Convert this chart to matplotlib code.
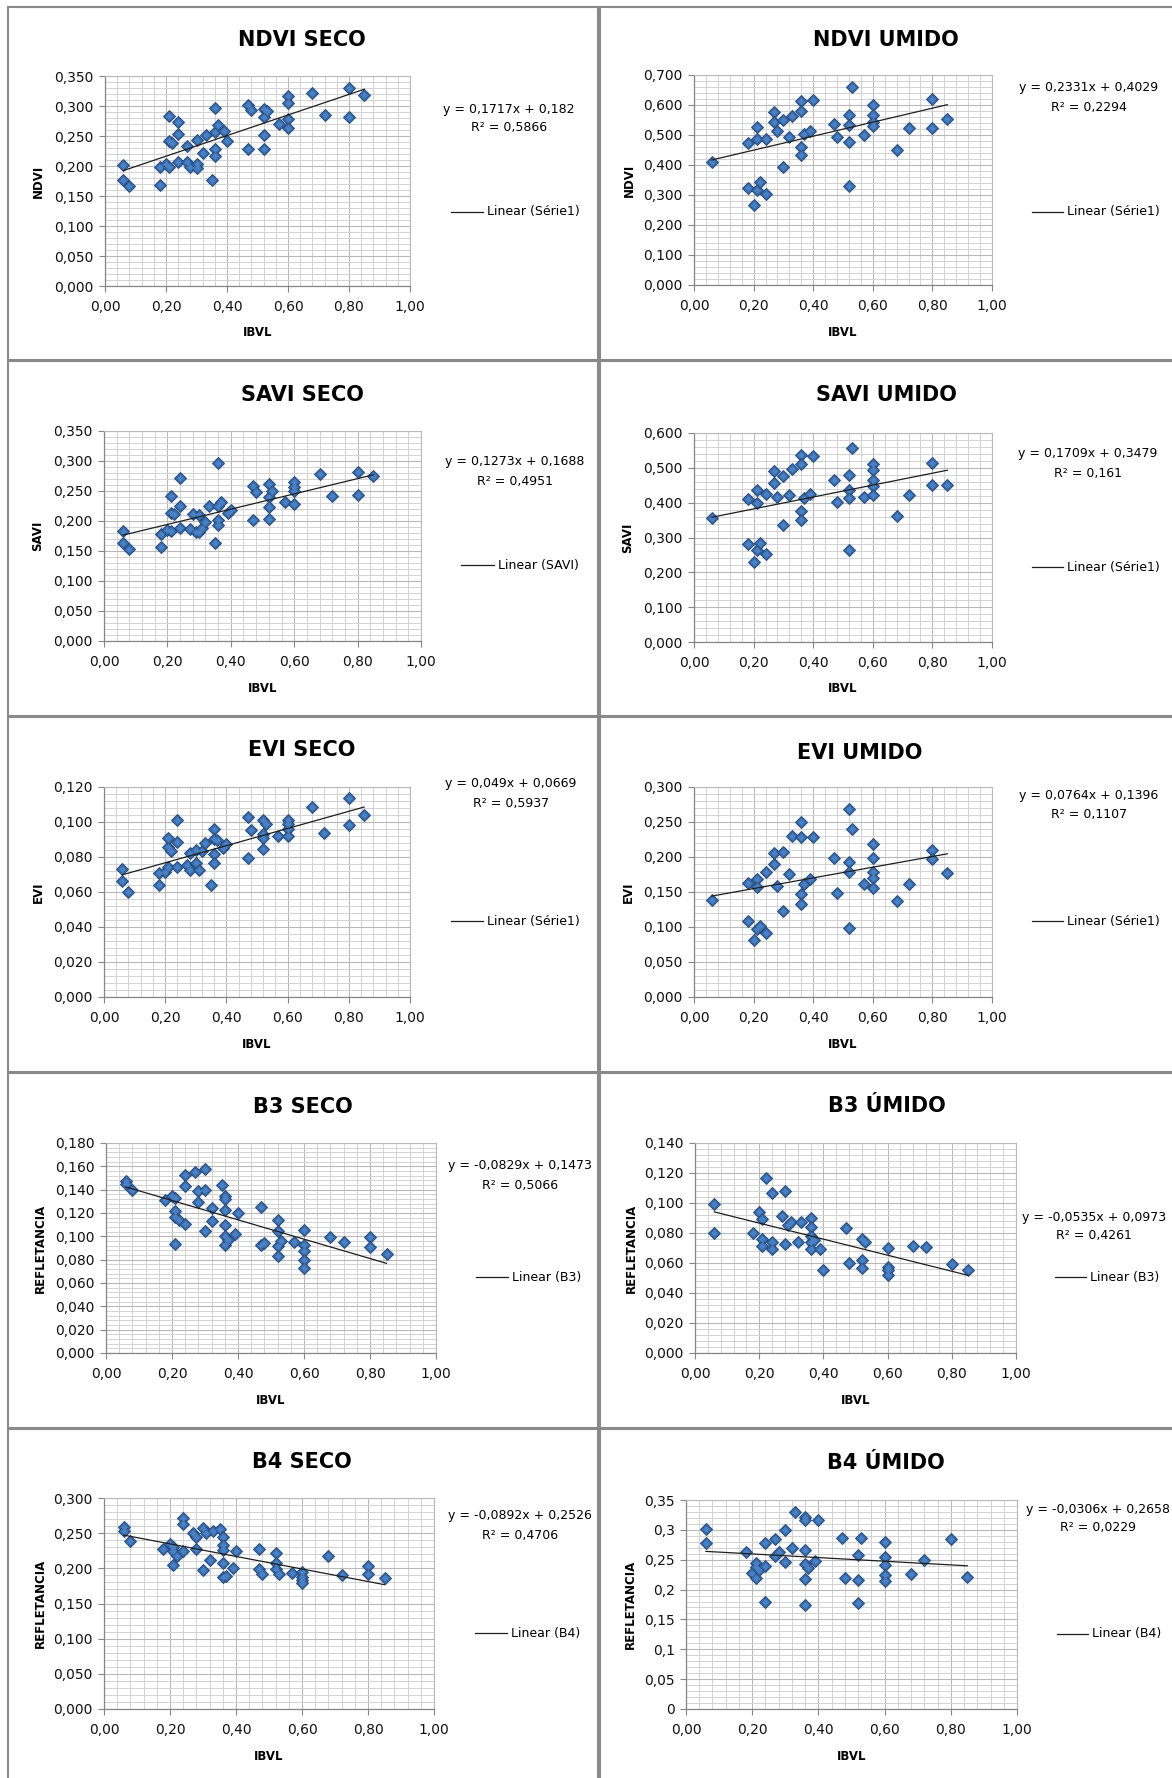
"""
Scatter plots of vegetation indices and reflectance vs IBVL (dry / wet season),
each with its linear trend line, Excel-style panels.
"""
import numpy as np
import matplotlib
matplotlib.use('Agg')
import matplotlib.pyplot as plt
from matplotlib.patches import Rectangle
from matplotlib.lines import Line2D
from matplotlib.ticker import MultipleLocator, FuncFormatter

# ---- data ----
ndvi_seco_x = [0.06, 0.06, 0.08, 0.18, 0.18, 0.20, 0.21, 0.21, 0.21, 0.22,
               0.24, 0.24, 0.24, 0.27, 0.27, 0.28, 0.30, 0.30, 0.30, 0.32,
               0.33, 0.35, 0.36, 0.36, 0.36, 0.36, 0.37, 0.39, 0.40, 0.47,
               0.47, 0.48, 0.52, 0.52, 0.52, 0.52, 0.53, 0.57, 0.60, 0.60,
               0.60, 0.60, 0.68, 0.72, 0.80, 0.80, 0.85]
ndvi_seco_y = [0.202, 0.177, 0.167, 0.168, 0.199, 0.204, 0.199, 0.283, 0.241, 0.239,
               0.274, 0.254, 0.206, 0.233, 0.206, 0.199, 0.244, 0.204, 0.197, 0.222,
               0.252, 0.177, 0.296, 0.257, 0.228, 0.216, 0.268, 0.258, 0.242, 0.302,
               0.228, 0.293, 0.295, 0.281, 0.252, 0.229, 0.291, 0.270, 0.316, 0.305,
               0.278, 0.263, 0.321, 0.285, 0.330, 0.281, 0.319]

ndvi_umido_x = [0.06, 0.18, 0.18, 0.20, 0.21, 0.21, 0.21, 0.22, 0.24, 0.24,
                0.27, 0.27, 0.28, 0.30, 0.30, 0.32, 0.33, 0.36, 0.36, 0.36,
                0.36, 0.37, 0.39, 0.40, 0.47, 0.48, 0.52, 0.52, 0.52, 0.52,
                0.53, 0.57, 0.60, 0.60, 0.60, 0.60, 0.68, 0.72, 0.80, 0.80,
                0.85]
ndvi_umido_y = [0.410, 0.473, 0.323, 0.268, 0.526, 0.487, 0.316, 0.342, 0.487, 0.304,
                0.577, 0.542, 0.512, 0.551, 0.392, 0.492, 0.562, 0.612, 0.581, 0.460,
                0.434, 0.503, 0.514, 0.616, 0.537, 0.492, 0.568, 0.534, 0.476, 0.331,
                0.659, 0.501, 0.601, 0.568, 0.545, 0.531, 0.449, 0.523, 0.621, 0.523,
                0.554]

savi_seco_x = [0.06, 0.06, 0.08, 0.18, 0.18, 0.20, 0.21, 0.21, 0.21, 0.22,
               0.24, 0.24, 0.24, 0.27, 0.28, 0.29, 0.30, 0.30, 0.31, 0.32,
               0.33, 0.35, 0.36, 0.36, 0.36, 0.36, 0.37, 0.39, 0.40, 0.47,
               0.47, 0.48, 0.52, 0.52, 0.52, 0.52, 0.53, 0.57, 0.60, 0.60,
               0.60, 0.60, 0.68, 0.72, 0.80, 0.80, 0.85]
savi_seco_y = [0.183, 0.163, 0.154, 0.156, 0.178, 0.185, 0.241, 0.214, 0.183, 0.211,
               0.271, 0.225, 0.189, 0.186, 0.211, 0.181, 0.210, 0.181, 0.189, 0.198,
               0.225, 0.164, 0.296, 0.225, 0.202, 0.193, 0.232, 0.214, 0.218, 0.259,
               0.202, 0.248, 0.262, 0.240, 0.223, 0.204, 0.250, 0.232, 0.265, 0.256,
               0.250, 0.229, 0.278, 0.242, 0.282, 0.244, 0.275]

savi_umido_x = [0.06, 0.18, 0.18, 0.20, 0.21, 0.21, 0.21, 0.22, 0.24, 0.24,
                0.27, 0.27, 0.28, 0.30, 0.30, 0.32, 0.33, 0.36, 0.36, 0.36,
                0.36, 0.37, 0.39, 0.40, 0.47, 0.48, 0.52, 0.52, 0.52, 0.52,
                0.53, 0.57, 0.60, 0.60, 0.60, 0.60, 0.60, 0.68, 0.72, 0.80,
                0.80, 0.85]
savi_umido_y = [0.356, 0.411, 0.281, 0.230, 0.437, 0.399, 0.265, 0.284, 0.425, 0.254,
                0.456, 0.490, 0.415, 0.476, 0.335, 0.423, 0.497, 0.536, 0.511, 0.377,
                0.351, 0.413, 0.425, 0.533, 0.466, 0.402, 0.480, 0.435, 0.413, 0.263,
                0.557, 0.415, 0.511, 0.493, 0.464, 0.447, 0.421, 0.363, 0.423, 0.514,
                0.452, 0.452]

evi_seco_x = [0.06, 0.06, 0.08, 0.18, 0.18, 0.20, 0.21, 0.21, 0.21, 0.22,
              0.24, 0.24, 0.24, 0.27, 0.28, 0.28, 0.30, 0.30, 0.31, 0.32,
              0.33, 0.35, 0.36, 0.36, 0.36, 0.36, 0.37, 0.39, 0.40, 0.47,
              0.47, 0.48, 0.52, 0.52, 0.52, 0.52, 0.53, 0.57, 0.60, 0.60,
              0.60, 0.60, 0.68, 0.72, 0.80, 0.80, 0.85]
evi_seco_y = [0.0733, 0.0661, 0.0600, 0.0709, 0.0642, 0.0714, 0.0857, 0.0910, 0.0743, 0.0834,
              0.1013, 0.0886, 0.0743, 0.0756, 0.0825, 0.0728, 0.0838, 0.0766, 0.0728, 0.0832,
              0.0880, 0.0642, 0.0962, 0.0905, 0.0819, 0.0766, 0.0895, 0.0851, 0.0876, 0.1029,
              0.0796, 0.0956, 0.1010, 0.0933, 0.0910, 0.0848, 0.0990, 0.0918, 0.1010, 0.0990,
              0.0962, 0.0920, 0.1086, 0.0939, 0.1137, 0.0985, 0.1038]

evi_umido_x = savi_umido_x
evi_umido_y = [0.138, 0.163, 0.109, 0.081, 0.168, 0.157, 0.097, 0.102, 0.178, 0.092,
               0.190, 0.205, 0.159, 0.207, 0.123, 0.176, 0.230, 0.250, 0.228, 0.147,
               0.133, 0.162, 0.168, 0.228, 0.199, 0.148, 0.268, 0.193, 0.178, 0.099,
               0.240, 0.162, 0.218, 0.198, 0.179, 0.170, 0.156, 0.137, 0.162, 0.210,
               0.197, 0.177]

b3_seco_x = [0.06, 0.06, 0.08, 0.18, 0.20, 0.21, 0.21, 0.21, 0.21, 0.22,
             0.24, 0.24, 0.24, 0.27, 0.28, 0.28, 0.30, 0.30, 0.30, 0.32,
             0.32, 0.35, 0.36, 0.36, 0.36, 0.36, 0.36, 0.36, 0.37, 0.39,
             0.40, 0.47, 0.47, 0.48, 0.52, 0.52, 0.52, 0.52, 0.53, 0.57,
             0.60, 0.60, 0.60, 0.60, 0.60, 0.68, 0.72, 0.80, 0.80, 0.85]
b3_seco_y = [0.1477, 0.1449, 0.1400, 0.1314, 0.1343, 0.1330, 0.1214, 0.1170, 0.0937, 0.1143,
             0.1529, 0.1429, 0.1109, 0.1551, 0.1391, 0.1291, 0.1577, 0.1394, 0.1043, 0.1134,
             0.1243, 0.1443, 0.1349, 0.1320, 0.1229, 0.1100, 0.1000, 0.0923, 0.0971, 0.1020,
             0.1200, 0.1249, 0.0929, 0.0943, 0.1143, 0.1049, 0.0914, 0.0829, 0.0957, 0.0949,
             0.1051, 0.0929, 0.0877, 0.0800, 0.0729, 0.0991, 0.0949, 0.0991, 0.0909, 0.0851]

b3_umido_x = [0.06, 0.06, 0.18, 0.20, 0.21, 0.21, 0.21, 0.22, 0.24, 0.24,
              0.24, 0.27, 0.28, 0.28, 0.29, 0.30, 0.32, 0.33, 0.36, 0.36,
              0.36, 0.36, 0.36, 0.37, 0.39, 0.40, 0.47, 0.48, 0.52, 0.52,
              0.52, 0.53, 0.60, 0.60, 0.60, 0.60, 0.68, 0.72, 0.80, 0.85]
b3_umido_y = [0.0996, 0.0800, 0.0802, 0.0940, 0.0891, 0.0758, 0.0711, 0.1167, 0.1069, 0.0740,
              0.0691, 0.0913, 0.1078, 0.0724, 0.0856, 0.0873, 0.0740, 0.0873, 0.0900, 0.0840,
              0.0780, 0.0740, 0.0691, 0.0751, 0.0696, 0.0551, 0.0833, 0.0600, 0.0762, 0.0618,
              0.0569, 0.0740, 0.0702, 0.0573, 0.0556, 0.0518, 0.0713, 0.0707, 0.0596, 0.0556]

b4_seco_x = [0.06, 0.06, 0.08, 0.18, 0.20, 0.21, 0.21, 0.21, 0.22, 0.24,
             0.24, 0.24, 0.27, 0.28, 0.28, 0.30, 0.30, 0.31, 0.32, 0.33,
             0.35, 0.36, 0.36, 0.36, 0.36, 0.36, 0.37, 0.39, 0.40, 0.47,
             0.47, 0.48, 0.52, 0.52, 0.52, 0.53, 0.57, 0.60, 0.60, 0.60,
             0.60, 0.68, 0.72, 0.80, 0.80, 0.85]
b4_seco_y = [0.2587, 0.2530, 0.2387, 0.2269, 0.2340, 0.2300, 0.2245, 0.2041, 0.2174, 0.2710,
             0.2625, 0.2245, 0.2506, 0.2278, 0.2444, 0.2577, 0.1974, 0.2496, 0.2112, 0.2530,
             0.2553, 0.2444, 0.2326, 0.2259, 0.2069, 0.1880, 0.1889, 0.2008, 0.2245, 0.2269,
             0.1984, 0.1913, 0.2221, 0.2069, 0.1984, 0.1922, 0.1936, 0.1946, 0.1875, 0.1832,
             0.1794, 0.2174, 0.1903, 0.2031, 0.1922, 0.1865]

b4_umido_x = [0.06, 0.06, 0.18, 0.20, 0.21, 0.21, 0.21, 0.22, 0.24, 0.24,
              0.24, 0.27, 0.27, 0.28, 0.30, 0.30, 0.32, 0.33, 0.36, 0.36,
              0.36, 0.36, 0.36, 0.36, 0.37, 0.39, 0.40, 0.47, 0.48, 0.52,
              0.52, 0.52, 0.53, 0.60, 0.60, 0.60, 0.60, 0.60, 0.68, 0.72,
              0.80, 0.85]
b4_umido_y = [0.3007, 0.2784, 0.2627, 0.2280, 0.2448, 0.2381, 0.2197, 0.2325, 0.2784, 0.2392,
              0.1794, 0.2560, 0.2840, 0.2627, 0.2996, 0.2459, 0.2689, 0.3298, 0.3220, 0.3158,
              0.2661, 0.2432, 0.2169, 0.1750, 0.2364, 0.2476, 0.3158, 0.2868, 0.2197, 0.2571,
              0.2158, 0.1778, 0.2856, 0.2800, 0.2543, 0.2404, 0.2241, 0.2141, 0.2264, 0.2493,
              0.2851, 0.2214]

titles = ['NDVI SECO', 'NDVI UMIDO', 'SAVI SECO', 'SAVI UMIDO', 'EVI SECO',
          'EVI UMIDO', 'B3 SECO', 'B3 ÚMIDO', 'B4 SECO', 'B4 ÚMIDO']
ylabels = ['NDVI', 'NDVI', 'SAVI', 'SAVI', 'EVI', 'EVI',
           'REFLETANCIA', 'REFLETANCIA', 'REFLETANCIA', 'REFLETANCIA']
legend_labels = ['Linear (Série1)', 'Linear (Série1)', 'Linear (SAVI)', 'Linear (Série1)',
                 'Linear (Série1)', 'Linear (Série1)', 'Linear (B3)', 'Linear (B3)',
                 'Linear (B4)', 'Linear (B4)']
slopes = [0.1717, 0.2331, 0.1273, 0.1709, 0.049, 0.0764, -0.0829, -0.0535, -0.0892, -0.0306]
intercepts = [0.182, 0.4029, 0.1688, 0.3479, 0.0669, 0.1396, 0.1473, 0.0973, 0.2526, 0.2658]
r2_values = [0.5866, 0.2294, 0.4951, 0.161, 0.5937, 0.1107, 0.5066, 0.4261, 0.4706, 0.0229]
y_max = [0.35, 0.7, 0.35, 0.6, 0.12, 0.3, 0.18, 0.14, 0.3, 0.35]
y_step = [0.05, 0.1, 0.05, 0.1, 0.02, 0.05, 0.02, 0.02, 0.05, 0.05]

series = [(ndvi_seco_x, ndvi_seco_y), (ndvi_umido_x, ndvi_umido_y),
          (savi_seco_x, savi_seco_y), (savi_umido_x, savi_umido_y),
          (evi_seco_x, evi_seco_y), (evi_umido_x, evi_umido_y),
          (b3_seco_x, b3_seco_y), (b3_umido_x, b3_umido_y),
          (b4_seco_x, b4_seco_y), (b4_umido_x, b4_umido_y)]

# ---- layout, in pixels of the 1172x1778 image ----
W, H = 1172, 1778
axes_px = [(105, 76, 410, 286), (694, 75, 992, 285),
           (104, 431, 421, 641), (694, 433, 992, 642),
           (104, 787, 410, 997), (694, 787, 992, 997),
           (106, 1143, 436, 1353), (695, 1143, 1016, 1353),
           (104, 1498, 434, 1709), (686, 1500, 1017, 1709)]
title_px = [(302, 40), (886, 40), (302, 395), (886, 395), (302, 750),
            (860, 753), (303, 1107), (887, 1106), (302, 1462), (886, 1463)]
ylabel_x = [38, 629, 38, 628, 38, 628, 40, 631, 40, 630]
eq_px = [(509, 109, 128), (1089, 87, 107), (515, 461, 481), (1088, 454, 473),
         (511, 784, 803), (1089, 795, 814), (520, 1166, 1185), (1094, 1217, 1236),
         (520, 1516, 1535), (1098, 1509, 1527)]
legend_px = [(451, 483, 212), (1032, 1063, 212), (461, 494, 565), (1032, 1063, 567),
             (451, 483, 921), (1032, 1063, 921), (476, 508, 1277), (1055, 1086, 1277),
             (475, 507, 1633), (1057, 1088, 1634)]
row_tops = [7, 361, 717, 1073, 1429]
row_bottoms = [360, 716, 1072, 1428, 1790]
col_spans = [(8, 598), (600, 1180)]

MFC, MEC, MHI = '#3a6cad', '#244a7a', '#4a80c4'
AXIS_GRAY = '#868686'

plt.rcParams['font.family'] = 'DejaVu Sans'
fig = plt.figure(figsize=(W / 100, H / 100), dpi=100)
fig.patch.set_facecolor('white')


def fy(y):
    return 1 - y / H


def comma(v):
    return f'{v:g}'.replace('.', ',')


def plot_panel(i):
    xs, ys = series[i]
    L, T, R, B = axes_px[i]
    ax = fig.add_axes([L / W, fy(B), (R - L) / W, (B - T) / H])
    ax.set_axisbelow(True)
    # bevelled diamond: dark outer marker plus a lighter inner one
    ax.plot(xs, ys, ls='none', marker='D', ms=6.4, mfc=MFC, mec=MEC, mew=0.7,
            zorder=3, clip_on=False)
    ax.plot(xs, ys, ls='none', marker='D', ms=3.4, mfc=MHI, mec='none',
            zorder=3.1, clip_on=False)
    xl = np.array([min(xs), max(xs)])
    ax.plot(xl, slopes[i] * xl + intercepts[i], color='#1e1e1e', lw=0.9, zorder=4)

    ax.set_xlim(0, 1)
    ax.set_ylim(0, y_max[i])
    ax.xaxis.set_major_locator(MultipleLocator(0.2))
    ax.xaxis.set_minor_locator(MultipleLocator(0.04))
    ax.yaxis.set_major_locator(MultipleLocator(y_step[i]))
    ax.yaxis.set_minor_locator(MultipleLocator(y_step[i] / 5))
    ax.xaxis.set_major_formatter(FuncFormatter(lambda v, p: f'{v:.2f}'.replace('.', ',')))
    if i == 9:
        ax.yaxis.set_major_formatter(FuncFormatter(lambda v, p: comma(round(v, 4))))
    else:
        ax.yaxis.set_major_formatter(FuncFormatter(lambda v, p: f'{v:.3f}'.replace('.', ',')))

    ax.grid(which='major', color='#b8b8b8', lw=0.8)
    ax.grid(which='minor', color='#d2d2d2', lw=0.7)
    ax.tick_params(which='major', length=4, width=0.8, color=AXIS_GRAY,
                   labelsize=10, labelcolor='#111111')
    ax.tick_params(axis='x', which='major', pad=6)
    ax.tick_params(axis='y', which='major', pad=4)
    ax.tick_params(which='minor', length=0)
    for side in ['left', 'bottom']:
        ax.spines[side].set_color(AXIS_GRAY)
        ax.spines[side].set_linewidth(0.9)
    for side in ['top', 'right']:
        ax.spines[side].set_color('#b8b8b8')
        ax.spines[side].set_linewidth(0.8)

    # texts
    tx, ty = title_px[i]
    fig.text(tx / W, fy(ty), titles[i], ha='center', va='center',
             fontsize=15, fontweight='bold')
    fig.text(ylabel_x[i] / W, fy((T + B) / 2), ylabels[i], rotation=90,
             ha='center', va='center', fontsize=8.5, fontweight='bold')
    fig.text((L + R) / 2 / W, fy(B + 47), 'IBVL', ha='center', va='center',
             fontsize=8.5, fontweight='bold')
    ex, ey1, ey2 = eq_px[i]
    sign = '-' if slopes[i] < 0 else ''
    eq = f'y = {sign}{comma(abs(slopes[i]))}x + {comma(intercepts[i])}'
    fig.text(ex / W, fy(ey1), eq, ha='center', va='center', fontsize=9)
    fig.text(ex / W, fy(ey2), f'R² = {comma(r2_values[i])}', ha='center',
             va='center', fontsize=9)
    lx0, lx1, ly = legend_px[i]
    fig.add_artist(Line2D([lx0 / W, lx1 / W], [fy(ly), fy(ly)], color='#1e1e1e', lw=0.9))
    fig.text((lx1 + 4) / W, fy(ly), legend_labels[i], ha='left', va='center', fontsize=9)


# panel frames
for top, bot in zip(row_tops, row_bottoms):
    for x0, x1 in col_spans:
        fig.add_artist(Rectangle((x0 / W, fy(bot)), (x1 - x0) / W, (bot - top) / H,
                                 fill=False, ec='#8a8a8a', lw=1.5))

for i in range(len(series)):
    plot_panel(i)

fig.savefig('out.png', dpi=100, facecolor='white')
